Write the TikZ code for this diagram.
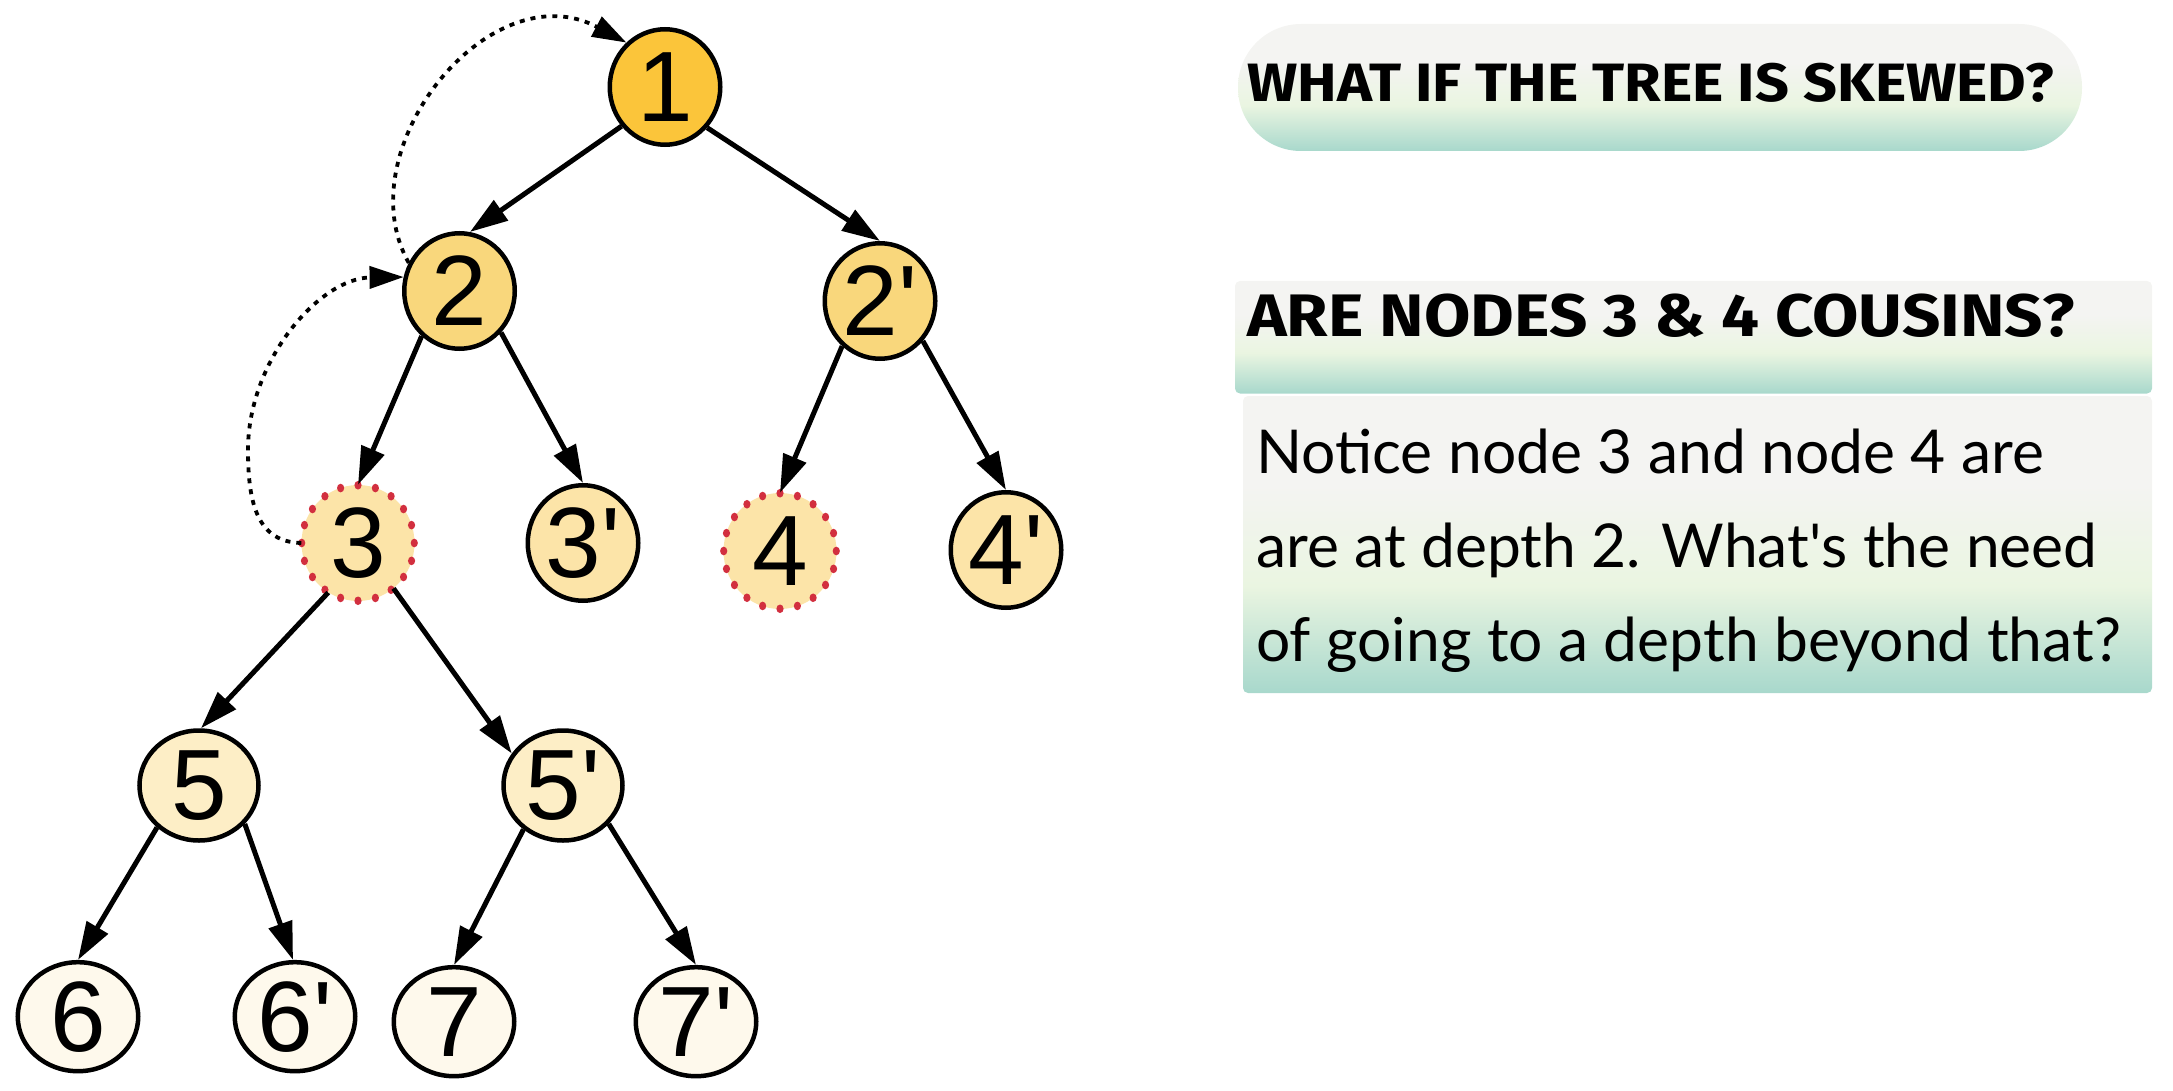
\documentclass[tikz,border=0pt]{standalone}
\usepackage{fontspec}
\setmainfont{Liberation Sans}
\newfontfamily\headfont{Fira Sans}
\newfontfamily\bodyfont{Lato}
\usetikzlibrary{arrows.meta,shapes.geometric}
\definecolor{lvA}{HTML}{FBC53A}
\definecolor{lvB}{HTML}{F9D77C}
\definecolor{lvC}{HTML}{FCE4A8}
\definecolor{lvD}{HTML}{FDEEC6}
\definecolor{lvE}{HTML}{FEF9EC}
\definecolor{dotred}{HTML}{D22F3F}
\definecolor{cgray}{HTML}{F4F4F2}
\definecolor{cgreen}{HTML}{EAF5E1}
\definecolor{cteal}{HTML}{A8D8CC}
\pgfdeclareverticalshading{boxshade}{100bp}{color(0bp)=(cteal); color(25bp)=(cteal); color(43bp)=(cgreen); color(60bp)=(cgray); color(75bp)=(cgray); color(100bp)=(cgray)}
\newcommand{\pr}{\textquotesingle}
\begin{document}
\begin{tikzpicture}[x=1pt,y=-1pt,
  tnode/.style={ellipse, draw=black, line width=4.5pt, inner sep=0pt,
    font=\fontsize{100pt}{100pt}\selectfont},
  bigA/.style={tnode, minimum width=110.5pt, minimum height=115.5pt},
  bigB/.style={tnode, minimum width=119pt, minimum height=110pt},
  bigC/.style={tnode, minimum width=120.5pt, minimum height=109pt},
  dotnode/.style={ellipse, draw=none, fill=lvC, inner sep=0pt, minimum width=113pt, minimum height=116pt,
    font=\fontsize{100pt}{100pt}\selectfont},
  edge/.style={line width=5pt, -{Triangle[length=38pt,width=24pt]}},
  backarrow/.style={line width=3.8pt, dash pattern=on 5pt off 6pt, -{Triangle[length=34pt,width=22pt]}},
  headtxt/.style={inner sep=0pt},
  bodytxt/.style={font=\bodyfont\fontsize{60.5pt}{60.5pt}\selectfont, inner sep=0pt, anchor=base west}
]
\useasboundingbox (0,0) rectangle (2173,1091);

% tree nodes
\node[bigA, fill=lvA] (n1) at (665,87) {1};
\node[bigA, fill=lvB] (n2) at (459.5,291) {2};
\node[bigA, fill=lvB] (n2p) at (880,301) {2\pr};
\node[dotnode] (n3) at (358,543) {3};
\node[bigA, fill=lvC] (n3p) at (583,543) {3\pr};
\node[dotnode] (n4) at (780,551) {4};
\node[bigA, fill=lvC] (n4p) at (1006,550) {4\pr};
\node[bigB, fill=lvD] (n5) at (199,785.5) {5};
\node[bigB, fill=lvD] (n5p) at (563,785.5) {5\pr};
\node[bigC, fill=lvE] (n6) at (78,1016.7) {6};
\node[bigC, fill=lvE] (n6p) at (295,1016.7) {6\pr};
\node[bigC, fill=lvE] (n7) at (454,1021.7) {7};
\node[bigC, fill=lvE] (n7p) at (696,1021.7) {7\pr};

% red dotted outlines
\foreach \nd in {n3,n4}{
  \foreach \a in {0,18,...,342}{
    \fill[dotred] (\nd.center) ++(\a:56.3pt and 57.8pt) ellipse (3.6pt and 4.3pt);
  }
}

% edges
\draw[edge] (n1.222) -- (n2.80);
\draw[edge] (n1.316) -- (n2p.90);
\draw[edge] (n2.230) -- (n3.90);
\draw[edge] (n2.315) -- (n3p.90);
\draw[edge] (n2p.230) -- (n4.90);
\draw[edge] (n2p.317) -- (n4p.90);
\draw[edge] (n3.239) -- (n5.88);
\draw[edge] (n3.308) -- (n5p.148);
\draw[edge] (n5.225) -- (n6.90);
\draw[edge] (n5.320) -- (n6p.92);
\draw[edge] (n5p.228) -- (n7.90);
\draw[edge] (n5p.320) -- (n7p.90);

% dotted back arrows
\draw[backarrow] (n2.151) .. controls (345,150) and (490,-30) .. (n1.131);
\draw[backarrow] (n3.180) .. controls (258,542) and (248,505) .. (248,450)
   .. controls (248,360) and (320,278) .. (n2.166);

% right side boxes
\node[shading=boxshade, rounded corners=63pt, minimum width=844pt, minimum height=127pt, inner sep=0pt] (q1) at (1660,87.5) {};
\node[headtxt, anchor=west] (q1t) at (1247,83)
  {\scalebox{1.1}[1]{\headfont\bfseries\fontsize{54pt}{54pt}\selectfont WHAT IF THE TREE IS SKEWED?}};

\node[shading=boxshade, rounded corners=5pt, minimum width=917pt, minimum height=112.5pt, inner sep=0pt] (q2) at (1693.5,337.25) {};
\node[headtxt, anchor=west] (q2t) at (1247,316)
  {\scalebox{1.12}[1]{\headfont\bfseries\fontsize{60pt}{60pt}\selectfont ARE NODES 3 \& 4 COUSINS?}};

\node[shading=boxshade, rounded corners=5pt, minimum width=909pt, minimum height=297pt, inner sep=0pt] (q3) at (1697.5,544.5) {};
\node[bodytxt] (b1) at (1256,473) {Notice node 3 and node 4 are};
\node[bodytxt] (b2) at (1256,567) {are at depth 2. What\pr s the need};
\node[bodytxt] (b3) at (1256,661) {of going to a depth beyond that?};
\end{tikzpicture}
\end{document}
